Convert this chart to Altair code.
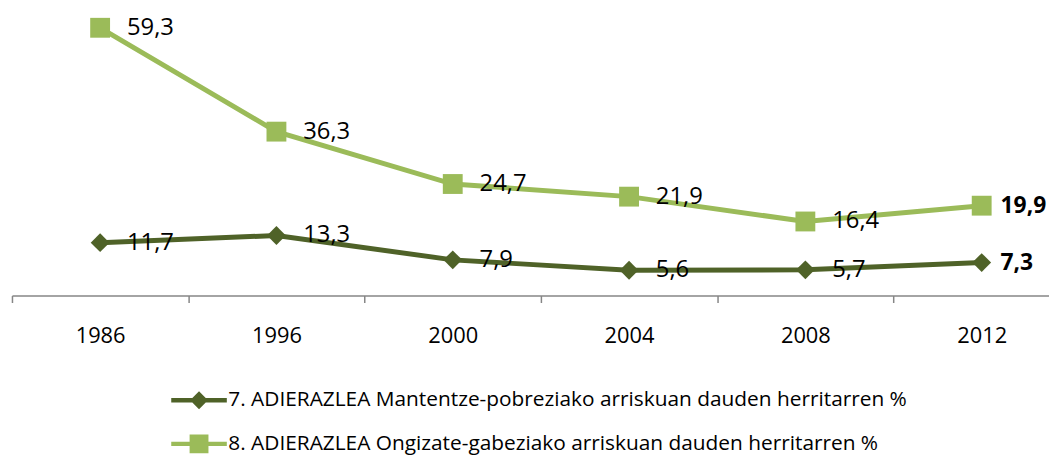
import altair as alt
import pandas as pd

years = ["1986", "1996", "2000", "2004", "2008", "2012"]
series7 = [11.7, 13.3, 7.9, 5.6, 5.7, 7.3]
series8 = [59.3, 36.3, 24.7, 21.9, 16.4, 19.9]
name7 = "7. ADIERAZLEA Mantentze-pobreziako arriskuan dauden herritarren %"
name8 = "8. ADIERAZLEA Ongizate-gabeziako arriskuan dauden herritarren %"
names = [name7, name8]
colors = ["#4F6228", "#9BBB59"]

rows = []
for name, vals in [(name7, series7), (name8, series8)]:
    for y, v in zip(years, vals):
        rows.append({"year": y, "value": v, "series": name,
                     "label": f"{v:.1f}".replace(".", ",")})
df = pd.DataFrame(rows)

FONT = "Open Sans"

bar = "M-2.8,-0.22L2.8,-0.22L2.8,0.22L-2.8,0.22Z"
diamond_leg = bar + "M0,-0.9L0.9,0L0,0.9L-0.9,0Z"
square_leg = bar + "M-0.95,-0.95L0.95,-0.95L0.95,0.95L-0.95,0.95Z"

legend = alt.Legend(
    title=None, orient="none", legendX=179, legendY=368, direction="vertical",
    labelFont=FONT, labelFontSize=21, labelColor="#000000", labelLimit=900,
    symbolSize=400, labelOffset=19, rowPadding=22,
    symbolType={"expr": f"datum.value === '{name7}' ? '{diamond_leg}' : '{square_leg}'"},
    symbolFillColor={"expr": "scale('color', datum.value)"},
    symbolStrokeColor={"expr": "scale('color', datum.value)"},
    symbolStrokeWidth=0, symbolOpacity=1,
)

x = alt.X("year:N", sort=years, title=None,
          scale=alt.Scale(type="band", range=[1, 1067], paddingInner=0, paddingOuter=0),
          axis=alt.Axis(labelAngle=0, labelFont=FONT, labelFontSize=22, labelColor="#000000",
                        domainColor="#868686", domainWidth=1.5, tickColor="#868686",
                        tickWidth=1.5, tickSize=7, tickBand="extent", labelPadding=23,
                        grid=False),
          bandPosition=0.5)
y = alt.Y("value:Q", scale=alt.Scale(domain=[0, 60], nice=False, zero=True), axis=None)
cscale = alt.Scale(domain=names, range=colors)

base = alt.Chart(df)
lines = base.mark_line(strokeWidth=5).encode(
    x=x, y=y, color=alt.Color("series:N", scale=cscale, legend=legend), detail="series:N")
points = base.mark_point(filled=True, opacity=1).encode(
    x=x, y=y,
    color=alt.Color("series:N", scale=cscale, legend=legend),
    shape=alt.condition(alt.datum.series == name7, alt.value("diamond"), alt.value("square")),
    size=alt.condition(alt.datum.series == name7, alt.value(360), alt.value(400)),
)
labels = base.transform_filter(alt.datum.year != "2012").mark_text(
    align="left", baseline="middle", dx=27, font=FONT, fontSize=24, color="#000000"
).encode(x=x, y=y, text="label:N")
labels_bold = base.transform_filter(alt.datum.year == "2012").mark_text(
    align="left", baseline="middle", dx=19, font=FONT, fontSize=23, fontWeight="bold",
    color="#000000"
).encode(x=x, y=y, text="label:N")

chart = alt.layer(lines, points, labels, labels_bold).properties(
    width=1046, height=273,
    autosize=alt.AutoSizeParams(type="none"),
    padding={"left": 3, "top": 15, "right": 0, "bottom": 166},
).configure_view(stroke=None)

chart.save("out.html", embed_options={"renderer": "svg", "actions": False})
